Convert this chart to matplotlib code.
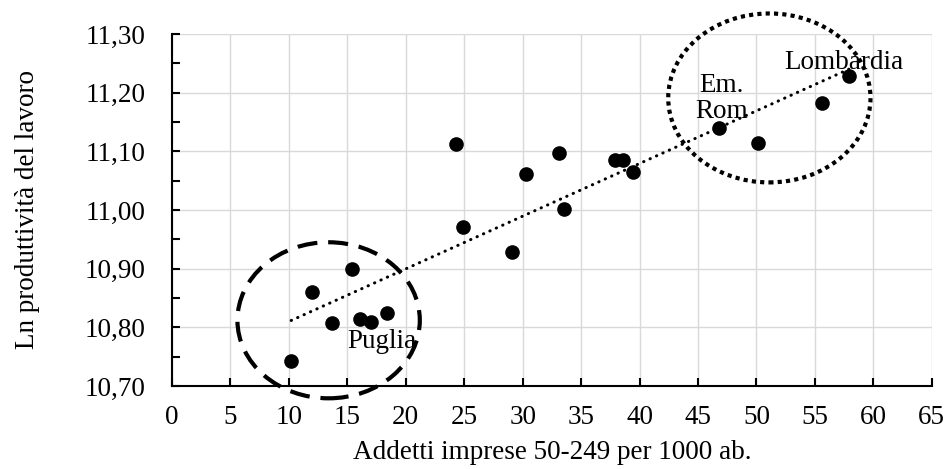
import numpy as np
import matplotlib
matplotlib.use("Agg")
import matplotlib.pyplot as plt
from matplotlib.patches import Ellipse
from matplotlib.ticker import MultipleLocator, FuncFormatter

# addetti imprese 50-249 per 1000 ab. / ln produttivita
addetti = [10.2, 12.0, 13.7, 15.4, 16.1, 17.0, 18.4, 24.3, 24.9, 29.1, 30.3,
           33.1, 33.5, 37.9, 38.6, 39.4, 46.8, 50.1, 55.6, 57.9]
produttivita = [10.742, 10.860, 10.807, 10.900, 10.814, 10.809, 10.825, 11.112,
                10.971, 10.928, 11.061, 11.097, 11.002, 11.086, 11.086, 11.064,
                11.139, 11.114, 11.183, 11.228]

x_ticks = list(range(0, 70, 5))
y_ticks = [10.70, 10.80, 10.90, 11.00, 11.10, 11.20, 11.30]

plt.rcParams['font.family'] = ['Liberation Serif', 'DejaVu Serif']
fs = 19.5

fig = plt.figure(figsize=(9.47, 4.69), dpi=100)
ax = fig.add_axes([0.1816, 0.177, 0.8024, 0.7505])

ax.grid(True, color='#d9d9d9', linewidth=1.0, zorder=0)
ax.set_axisbelow(True)

ax.plot(addetti, produttivita, 'o', color='black', markersize=9.5, zorder=3)

# trendline lineare
coef = np.polyfit(addetti, produttivita, 1)
xs = np.array([min(addetti), max(addetti)])
ax.plot(xs, np.polyval(coef, xs), color='black', linewidth=2.2,
        linestyle=(0, (0.1, 2.2)), dash_capstyle='round', zorder=2)

# gruppi evidenziati
sud = Ellipse((13.4, 10.812), 15.6, 0.266, fill=False, edgecolor='black',
              linewidth=3, linestyle=(0, (4.8, 2.6)), clip_on=False, zorder=4)
nord = Ellipse((51.1, 11.191), 17.3, 0.288, fill=False, edgecolor='black',
               linewidth=3, linestyle=(0, (1, 1)), clip_on=False, zorder=4)
ax.add_patch(sud)
ax.add_patch(nord)

ax.text(15.0, 10.775, 'Puglia', fontsize=fs, ha='left', va='center', zorder=5)
ax.text(47.0, 11.19, 'Em.\nRom', fontsize=fs, ha='center', va='center',
        linespacing=1.1, zorder=5)
ax.text(57.5, 11.252, 'Lombardia', fontsize=fs, ha='center', va='center', zorder=5)

ax.set_xlim(0, 65)
ax.set_ylim(10.70, 11.30)
ax.set_xticks(x_ticks)
ax.set_yticks(y_ticks)
ax.yaxis.set_minor_locator(MultipleLocator(0.05))
ax.yaxis.set_major_formatter(FuncFormatter(lambda v, p: f'{v:.2f}'.replace('.', ',')))

for s in ['top', 'right']:
    ax.spines[s].set_visible(False)
for s in ['left', 'bottom']:
    ax.spines[s].set_linewidth(1.5)

ax.tick_params(axis='both', which='both', direction='in', length=6, width=1.5,
               labelsize=fs)
ax.tick_params(axis='x', pad=14)
ax.tick_params(axis='y', pad=19)

ax.set_xlabel('Addetti imprese 50-249 per 1000 ab.', fontsize=fs, labelpad=7)
ax.set_ylabel('Ln produttività del lavoro', fontsize=fs, labelpad=32)

fig.savefig('out.png', dpi=100)
